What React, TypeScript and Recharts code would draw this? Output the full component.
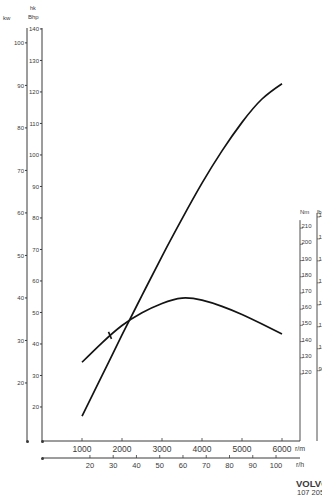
import { LineChart, Line, XAxis, YAxis, ReferenceDot } from "recharts"

// engine speed, r/min
const rpm = [1000, 1500, 2000, 2500, 3000, 3500, 4000, 4500, 5000, 5500, 6000]
// output, kW
const powerKw = [12.2, 21.7, 31.3, 40.6, 49.8, 58.6, 67.0, 74.6, 81.3, 86.8, 90.4]
// torque, Nm
const torqueNm = [126, 138, 148.7, 156.6, 162.3, 165.6, 164.3, 160.5, 155.5, 149.6, 143.5]

const rpmTicks = [1000, 2000, 3000, 4000, 5000, 6000]
const kmhTicks = [20, 30, 40, 50, 60, 70, 80, 90, 100]
const kwTicks = [20, 30, 40, 50, 60, 70, 80, 90, 100]
const hpTicks = [20, 30, 40, 50, 60, 70, 80, 90, 100, 110, 120, 130, 140]
const nmTicks = [120, 130, 140, 150, 160, 170, 180, 190, 200, 210]
const lbftTicks = [90, 100, 110, 120, 130, 140, 150, 160]

// small cross mark on the torque curve
const torqueMark = { rpm: 1700, nm: 142.6 }

// scale ranges as printed on the sheet
const rpmDomain: [number, number] = [0, 6450]
const kmhDomain: [number, number] = [-0.6, 110.3]
const kwDomain: [number, number] = [6.35, 103.5]
const hpDomain: [number, number] = [9.2, 140.3]
const nmDomain: [number, number] = [77.4, 332.3]
const lbftDomain: [number, number] = [57.1, 245.1]

const data = rpm.map((r, i) => ({ rpm: r, kw: powerKw[i], nm: torqueNm[i] }))

const ink = "#3a3a3a"
const font = "'Liberation Sans', Arial, sans-serif"
const plotBottom = 441

function BottomTick(props: any) {
  const { x, y, payload, size, gap } = props
  return (
    <g>
      <line x1={x} x2={x} y1={y - 3} y2={y} stroke={ink} strokeWidth={0.8} />
      <text x={x} y={y + gap} textAnchor="middle" fontSize={size} fill={ink} fontFamily={font}>
        {payload.value}
      </text>
    </g>
  )
}

function RightTick(props: any) {
  const { x, y, payload, top, lineTop } = props
  return (
    <g>
      {payload.value === top && (
        <line x1={x} x2={x} y1={y - lineTop} y2={plotBottom} stroke={ink} strokeWidth={0.9} />
      )}
      <line x1={x} x2={x + 3} y1={y + 2} y2={y + 2} stroke={ink} strokeWidth={0.6} />
      <text x={x + 1.5} y={y + 2} fontSize={6} fill={ink} fontFamily={font}>
        {payload.value}
      </text>
    </g>
  )
}

function Txt({ x, y, size, children, bold }: any) {
  return (
    <div
      style={{
        position: "absolute",
        left: x,
        top: y,
        fontSize: size,
        lineHeight: 1,
        fontFamily: font,
        color: ink,
        fontWeight: bold ? 700 : 400,
        whiteSpace: "nowrap",
      }}
    >
      {children}
    </div>
  )
}

function Dot({ x, y }: any) {
  return (
    <div
      style={{
        position: "absolute",
        left: x - 1.5,
        top: y - 1.5,
        width: 3,
        height: 3,
        borderRadius: 2,
        background: ink,
      }}
    />
  )
}

export default function App() {
  const yTick = { fontSize: 6, fill: ink, fontFamily: font }
  return (
    <div
      style={{
        position: "absolute",
        left: 0,
        top: 0,
        width: 322,
        height: 501,
        overflow: "hidden",
        background: "#fff",
      }}
    >
      <LineChart width={322} height={501} data={data} margin={{ top: 28, right: 0, bottom: 28, left: 12 }}>
        <XAxis
          xAxisId="rpm"
          dataKey="rpm"
          type="number"
          domain={rpmDomain}
          ticks={rpmTicks}
          allowDataOverflow
          interval={0}
          height={17}
          stroke={ink}
          tickSize={0}
          tickMargin={0}
          tickLine={false}
          tick={(p: any) => <BottomTick {...p} size={8.5} gap={11} />}
        />
        <XAxis
          xAxisId="speed"
          dataKey="kmh"
          type="number"
          domain={kmhDomain}
          ticks={kmhTicks}
          allowDataOverflow
          interval={0}
          height={15}
          stroke={ink}
          tickSize={0}
          tickMargin={0}
          tickLine={false}
          tick={(p: any) => <BottomTick {...p} size={7.5} gap={10} />}
        />
        <YAxis
          yAxisId="hp"
          orientation="left"
          type="number"
          domain={hpDomain}
          ticks={hpTicks}
          allowDataOverflow
          interval={0}
          width={15}
          stroke={ink}
          tickSize={2}
          tickMargin={1}
          tick={yTick}
        />
        <YAxis
          yAxisId="kw"
          orientation="left"
          type="number"
          domain={kwDomain}
          ticks={kwTicks}
          allowDataOverflow
          interval={0}
          width={15}
          stroke={ink}
          tickSize={2}
          tickMargin={1}
          tick={yTick}
        />
        <YAxis
          yAxisId="nm"
          orientation="right"
          type="number"
          domain={nmDomain}
          ticks={nmTicks}
          allowDataOverflow
          interval={0}
          width={17}
          axisLine={false}
          tickLine={false}
          tickSize={0}
          tickMargin={0}
          tick={(p: any) => <RightTick {...p} top={210} lineTop={6} />}
        />
        <YAxis
          yAxisId="torqueLb"
          orientation="right"
          type="number"
          domain={lbftDomain}
          ticks={lbftTicks}
          allowDataOverflow
          interval={0}
          width={5}
          axisLine={false}
          tickLine={false}
          tickSize={0}
          tickMargin={0}
          tick={(p: any) => <RightTick {...p} top={160} lineTop={2} />}
        />
        <Line
          xAxisId="rpm"
          yAxisId="kw"
          dataKey="kw"
          type="natural"
          stroke="#141414"
          strokeWidth={1.7}
          dot={false}
          isAnimationActive={false}
        />
        <Line
          xAxisId="rpm"
          yAxisId="nm"
          dataKey="nm"
          type="natural"
          stroke="#141414"
          strokeWidth={1.7}
          dot={false}
          isAnimationActive={false}
        />
        <ReferenceDot
          xAxisId="rpm"
          yAxisId="nm"
          x={torqueMark.rpm}
          y={torqueMark.nm}
          shape={(p: any) => (
            <line x1={p.cx - 1.5} y1={p.cy - 3.5} x2={p.cx + 1.5} y2={p.cy + 3.5} stroke="#141414" strokeWidth={1.6} />
          )}
        />
      </LineChart>
      <Dot x={27} y={441} />
      <Dot x={42} y={441} />
      <Dot x={42} y={458} />
      <Txt x={3} y={15} size={6}>kw</Txt>
      <Txt x={30} y={6} size={5.5}>hk</Txt>
      <Txt x={28} y={14} size={6}>Bhp</Txt>
      <Txt x={300} y={209} size={6}>Nm</Txt>
      <Txt x={317} y={209} size={6}>lb</Txt>
      <Txt x={295} y={445} size={7}>r/m</Txt>
      <Txt x={296} y={461} size={7}>r/h</Txt>
      <Txt x={296} y={479} size={9.5} bold>VOLVO</Txt>
      <Txt x={297} y={489} size={7.5}>107 205</Txt>
    </div>
  )
}
